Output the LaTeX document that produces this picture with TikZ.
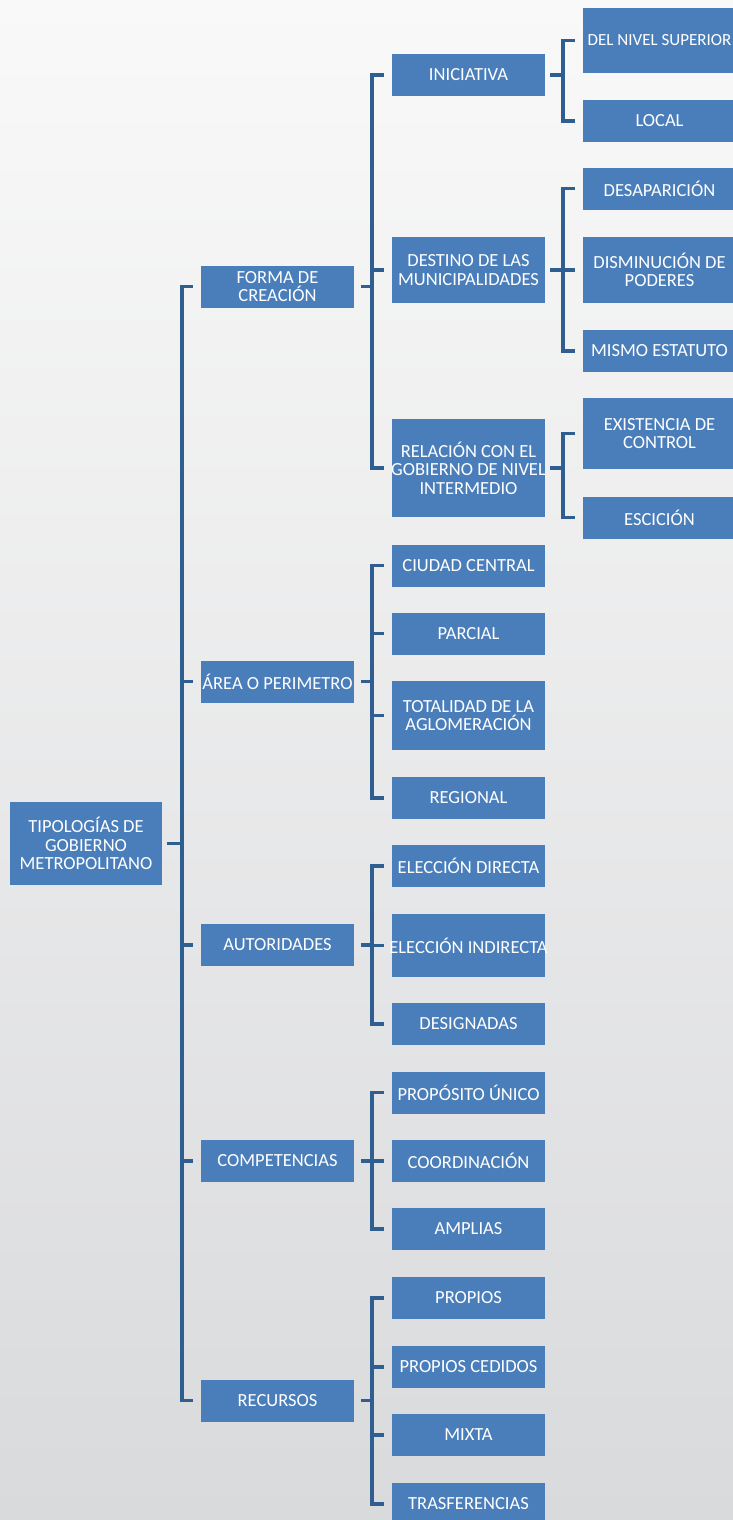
\documentclass[tikz,border=0pt]{standalone}
\usepackage{fontspec}
\setmainfont{Carlito}
\definecolor{boxblue}{HTML}{4A7EBB}
\definecolor{lineblue}{HTML}{2F5E91}
\definecolor{bgtop}{HTML}{F9F9F9}
\definecolor{bgbottom}{HTML}{D9DADC}

\begin{document}
\begin{tikzpicture}[x=1pt,y=-1pt,
		caja/.style={fill=boxblue, text=white, inner sep=0pt, align=center, minimum width=153pt, minimum height=42pt, font=\fontsize{18.5}{18.5}\selectfont},
		rama/.style={draw=lineblue, line width=3.5pt}]
		\shade[top color=bgtop, bottom color=bgbottom] (0,0) rectangle (733,1520);
		\useasboundingbox (0,0) rectangle (733,1520);

		\node[caja, minimum width=152pt, minimum height=83pt] (raiz) at (86,843.5) {TIPOLOGÍAS DE\\GOBIERNO\\METROPOLITANO};

		\node[caja] (forma) at (277.5,286.5) {FORMA DE\\CREACIÓN};
		\node[caja] (area) at (277.5,681.5) {\makebox[153pt]{ÁREA O PERIMETRO}};
		\node[caja] (autoridades) at (277.5,945) {AUTORIDADES};
		\node[caja] (competencias) at (277.5,1161) {COMPETENCIAS};
		\node[caja] (recursos) at (277.5,1400.5) {RECURSOS};

		\node[caja] (iniciativa) at (468.5,75) {INICIATIVA};
		\node[caja, minimum height=66pt] (destino) at (468.5,270) {DESTINO DE LAS\\MUNICIPALIDADES};
		\node[caja, minimum height=98pt] (relacion) at (468.5,468) {RELACIÓN CON EL\\\makebox[153pt]{GOBIERNO DE NIVEL}\\INTERMEDIO};
		\node[caja] (ciudad) at (468.5,565.5) {CIUDAD CENTRAL};
		\node[caja] (parcial) at (468.5,633.5) {PARCIAL};
		\node[caja, minimum height=69pt] (totalidad) at (468.5,715.5) {TOTALIDAD DE LA\\AGLOMERACIÓN};
		\node[caja] (regional) at (468.5,798) {REGIONAL};
		\node[caja] (directa) at (468.5,866) {ELECCIÓN DIRECTA};
		\node[caja, minimum height=63pt] (indirecta) at (468.5,945.5) {\makebox[153pt]{ELECCIÓN INDIRECTA}};
		\node[caja] (designadas) at (468.5,1024) {DESIGNADAS};
		\node[caja] (unico) at (468.5,1092.5) {PROPÓSITO ÚNICO};
		\node[caja] (coordinacion) at (468.5,1161) {COORDINACIÓN};
		\node[caja] (amplias) at (468.5,1229) {AMPLIAS};
		\node[caja] (propios) at (468.5,1298) {PROPIOS};
		\node[caja] (cedidos) at (468.5,1367) {PROPIOS CEDIDOS};
		\node[caja] (mixta) at (468.5,1435) {MIXTA};
		\node[caja] (trasferencias) at (468.5,1504) {TRASFERENCIAS};

		\node[caja, minimum height=65pt, font=\fontsize{17}{18.5}\selectfont] (superior) at (659.5,40.5) {DEL NIVEL SUPERIOR};
		\node[caja] (local) at (659.5,121) {LOCAL};
		\node[caja] (desaparicion) at (659.5,188.5) {DESAPARICIÓN};
		\node[caja, minimum height=66pt] (disminucion) at (659.5,270) {DISMINUCIÓN DE\\PODERES};
		\node[caja] (mismo) at (659.5,351) {MISMO ESTATUTO};
		\node[caja, minimum height=71pt] (existencia) at (659.5,433.5) {EXISTENCIA DE\\CONTROL};
		\node[caja] (escicion) at (659.5,517.5) {ESCICIÓN};

		\coordinate (v0) at (182,0);
		\coordinate (v1) at (372,0);
		\coordinate (v2) at (563,0);

		% primer nivel
		\draw[rama] ([xshift=5pt]raiz.east) -- (raiz.east -| v0);
		\draw[rama] ([xshift=-8pt]forma.west) -- (forma.west -| v0) -- (recursos.west -| v0) -- ([xshift=-8pt]recursos.west);
		\foreach \n in {area,autoridades,competencias}
			\draw[rama] (\n.west -| v0) -- ([xshift=-8pt]\n.west);

		% segundo nivel
		\draw[rama] ([xshift=7pt]forma.east) -- (forma.east -| v1);
		\draw[rama] ([xshift=-8pt]iniciativa.west) -- (iniciativa.west -| v1) -- (relacion.west -| v1) -- ([xshift=-8pt]relacion.west);
		\draw[rama] (destino.west -| v1) -- ([xshift=-8pt]destino.west);

		\draw[rama] ([xshift=7pt]area.east) -- (area.east -| v1);
		\draw[rama] ([xshift=-8pt]ciudad.west) -- (ciudad.west -| v1) -- (regional.west -| v1) -- ([xshift=-8pt]regional.west);
		\foreach \n in {parcial,totalidad}
			\draw[rama] (\n.west -| v1) -- ([xshift=-8pt]\n.west);

		\draw[rama] ([xshift=7pt]autoridades.east) -- (autoridades.east -| v1);
		\draw[rama] ([xshift=-8pt]directa.west) -- (directa.west -| v1) -- (designadas.west -| v1) -- ([xshift=-8pt]designadas.west);
		\draw[rama] (indirecta.west -| v1) -- ([xshift=-8pt]indirecta.west);

		\draw[rama] ([xshift=7pt]competencias.east) -- (competencias.east -| v1);
		\draw[rama] ([xshift=-8pt]unico.west) -- (unico.west -| v1) -- (amplias.west -| v1) -- ([xshift=-8pt]amplias.west);
		\draw[rama] (coordinacion.west -| v1) -- ([xshift=-8pt]coordinacion.west);

		\draw[rama] ([xshift=7pt]recursos.east) -- (recursos.east -| v1);
		\draw[rama] ([xshift=-8pt]propios.west) -- (propios.west -| v1) -- (trasferencias.west -| v1) -- ([xshift=-8pt]trasferencias.west);
		\foreach \n in {cedidos,mixta}
			\draw[rama] (\n.west -| v1) -- ([xshift=-8pt]\n.west);

		% tercer nivel
		\draw[rama] ([xshift=5pt]iniciativa.east) -- (iniciativa.east -| v2);
		\draw[rama] ([xshift=-8pt]superior.west) -- (superior.west -| v2) -- (local.west -| v2) -- ([xshift=-8pt]local.west);

		\draw[rama] ([xshift=5pt]destino.east) -- (destino.east -| v2);
		\draw[rama] ([xshift=-8pt]desaparicion.west) -- (desaparicion.west -| v2) -- (mismo.west -| v2) -- ([xshift=-8pt]mismo.west);
		\draw[rama] (disminucion.west -| v2) -- ([xshift=-8pt]disminucion.west);

		\draw[rama] ([xshift=5pt]relacion.east) -- (relacion.east -| v2);
		\draw[rama] ([xshift=-8pt]existencia.west) -- (existencia.west -| v2) -- (escicion.west -| v2) -- ([xshift=-8pt]escicion.west);
	\end{tikzpicture}
\end{document}
